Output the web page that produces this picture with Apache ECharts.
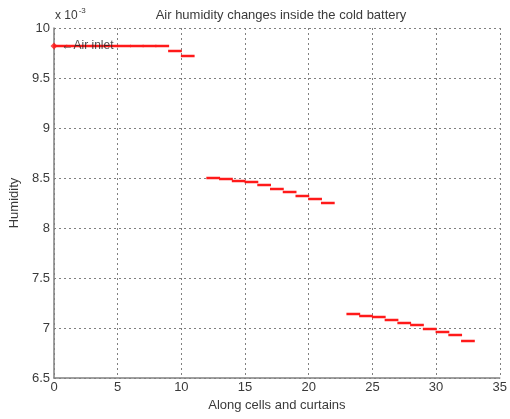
<!DOCTYPE html>
<html>
<head>
<meta charset="utf-8">
<script src="https://cdn.jsdelivr.net/npm/echarts@6/dist/echarts.min.js"></script>
<style>
  html, body { margin: 0; padding: 0; background: #fff; }
  #chart { width: 510px; height: 419px; }
</style>
</head>
<body>
<div id="chart"></div>
<script>
// Humidity (x 10^-3) per cell; each value spans one unit along the battery
const inletCells = [0, 1, 2, 3, 4, 5, 6, 7, 8, 9, 10];
const inletHumidity = [9.82, 9.82, 9.82, 9.82, 9.82, 9.82, 9.82, 9.82, 9.82, 9.77, 9.72];

const middleCells = [12, 13, 14, 15, 16, 17, 18, 19, 20, 21];
const middleHumidity = [8.50, 8.49, 8.47, 8.46, 8.43, 8.39, 8.36, 8.32, 8.29, 8.25];

const outletCells = [23, 24, 25, 26, 27, 28, 29, 30, 31, 32];
const outletHumidity = [7.14, 7.12, 7.11, 7.08, 7.05, 7.03, 6.99, 6.96, 6.93, 6.87];

const inletPoint = [0, 9.82];

const xTicks = [0, 5, 10, 15, 20, 25, 30, 35];
const yTicks = [6.5, 7, 7.5, 8, 8.5, 9, 9.5, 10];

// one [start, end, value] row per cell segment
const segments = [];
[[inletCells, inletHumidity], [middleCells, middleHumidity], [outletCells, outletHumidity]]
  .forEach(([cells, vals]) => cells.forEach((c, i) => segments.push([c, c + 1, vals[i]])));

const textColor = '#3a3a3a';
const font = 'Liberation Sans, Arial, sans-serif';

const chart = echarts.init(document.getElementById('chart'), null, { renderer: 'canvas' });
chart.setOption({
  animation: false,
  backgroundColor: '#fff',
  title: {
    text: 'Air humidity changes inside the cold battery',
    left: 276, top: 4, textAlign: 'center',
    textStyle: { fontFamily: font, fontSize: 13, fontWeight: 'normal', color: textColor }
  },
  graphic: [{
    type: 'text', left: 55, top: 7,
    style: {
      text: '{b|x 10}{s|-3}',
      rich: {
        b: { fontFamily: font, fontSize: 12, fill: textColor },
        s: { fontFamily: font, fontSize: 8, fill: textColor, verticalAlign: 'top', padding: [0, 0, 9, 1] }
      }
    }
  }],
  grid: { left: 54, right: 8, top: 28, bottom: 41 },
  xAxis: {
    type: 'value', min: 0, max: 35, interval: 5,
    name: 'Along cells and curtains', nameLocation: 'middle', nameGap: 21,
    nameTextStyle: { fontFamily: font, fontSize: 13, color: textColor },
    axisLine: { show: true, onZero: false, lineStyle: { color: '#808080', width: 1.5 } },
    axisTick: { show: false },
    axisLabel: {
      margin: 3, fontFamily: font, fontSize: 13, color: textColor,
      customValues: xTicks
    },
    splitLine: { show: true, lineStyle: { color: '#808080', type: [2, 3], width: 1 } }
  },
  yAxis: {
    type: 'value', min: 6.5, max: 10, interval: 0.5,
    name: 'Humidity', nameLocation: 'middle', nameGap: 31,
    nameTextStyle: { fontFamily: font, fontSize: 13, color: textColor },
    axisLine: { show: true, onZero: false, lineStyle: { color: '#808080', width: 1.5 } },
    axisTick: { show: false },
    axisLabel: {
      margin: 4, fontFamily: font, fontSize: 13, color: textColor,
      formatter: v => String(v)
    },
    splitLine: { show: true, lineStyle: { color: '#808080', type: [2, 3], width: 1 } }
  },
  series: [
    {
      type: 'custom',
      data: segments,
      z: 3,
      renderItem: function (params, api) {
        const p0 = api.coord([api.value(0), api.value(2)]);
        const p1 = api.coord([api.value(1), api.value(2)]);
        return {
          type: 'line',
          shape: { x1: p0[0] - 0.5, y1: p0[1], x2: p1[0] + 0.5, y2: p1[1] },
          style: { stroke: '#ff1a1a', lineWidth: 2.5 }
        };
      },
      encode: { x: [0, 1], y: 2 }
    },
    {
      type: 'scatter',
      data: [inletPoint],
      symbol: 'diamond',
      symbolSize: 7,
      itemStyle: { color: '#ff1a1a' },
      z: 4,
      label: {
        show: true, position: 'right', distance: 4,
        formatter: '\u2190Air inlet',
        fontFamily: font, fontSize: 12, color: '#222'
      }
    }
  ]
});
</script>
</body>
</html>
